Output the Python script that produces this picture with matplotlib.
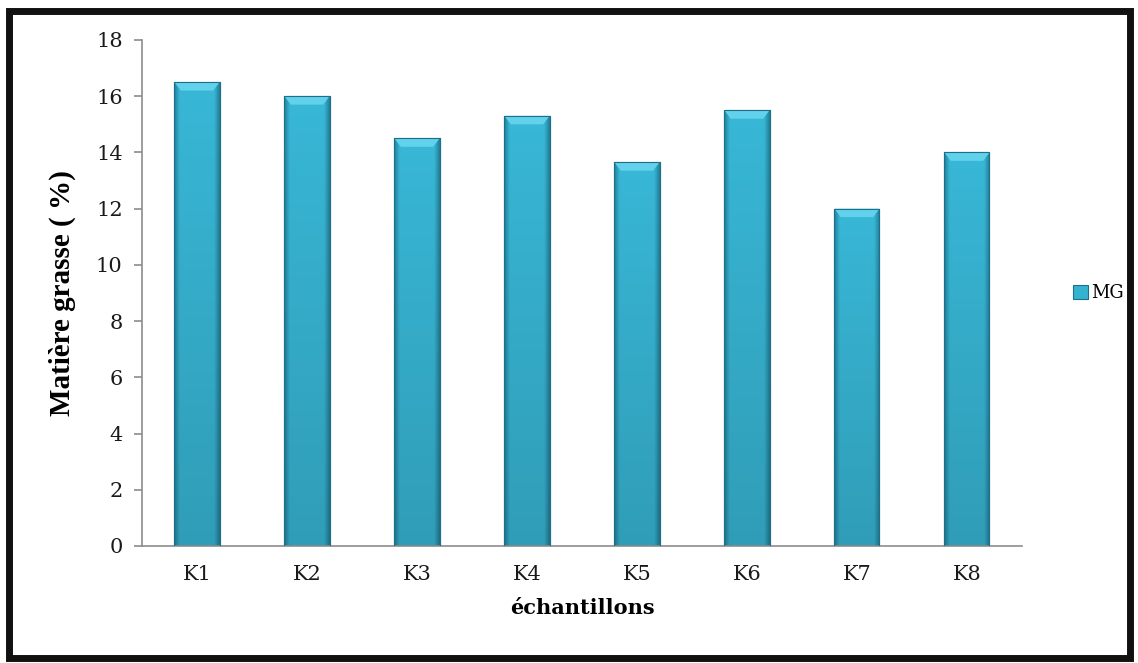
import numpy as np
import matplotlib
matplotlib.use("Agg")
import matplotlib.pyplot as plt
from matplotlib.patches import Rectangle, Polygon
from matplotlib.colors import to_rgb

samples = ["K1", "K2", "K3", "K4", "K5", "K6", "K7", "K8"]
mg_values = [16.5, 16.0, 14.5, 15.3, 13.65, 15.5, 12.0, 14.0]
yticks = [0, 2, 4, 6, 8, 10, 12, 14, 16, 18]

fig = plt.figure(figsize=(11.38, 6.63), dpi=100)
ax = fig.add_axes([0.1248, 0.1765, 0.7732, 0.7632])

x = np.arange(len(samples))
bars = ax.bar(x, mg_values, width=0.41, color="#36b2d1", edgecolor="#1d7088",
              linewidth=0.8, label="MG", zorder=2)

# shading: flat middle, darker side edges, a little darker towards the bottom
base = np.array(to_rgb("#38b7d6"))
edge = np.array(to_rgb("#227f98"))
u = np.linspace(0, 1, 80)
side = np.clip(np.minimum(u, 1 - u) / 0.12, 0, 1)
hprof = edge[None, :] + (base - edge)[None, :] * side[:, None]
v = np.linspace(0.86, 1.0, 60)
shade = v[:, None, None] * hprof[None, :, :]

for b in bars:
    x0, w, h = b.get_x(), b.get_width(), b.get_height()
    im = ax.imshow(shade, extent=[x0, x0 + w, 0, h], aspect="auto",
                   origin="lower", zorder=2.5, interpolation="bilinear")
    im.set_clip_path(b)
    d = w * 0.14
    ax.add_patch(Polygon([(x0, h), (x0 + w, h), (x0 + w - d, h - 0.3),
                          (x0 + d, h - 0.3)], closed=True,
                         facecolor="#62d2ec", edgecolor="none", zorder=2.6))
    ax.add_patch(Rectangle((x0, 0), w, h, facecolor="none",
                           edgecolor="#1d7088", linewidth=0.8, zorder=2.7))

ax.set_xlim(-0.5, len(samples) - 0.5)
ax.set_ylim(0, 18)
ax.set_yticks(yticks)
ax.set_xticks(x)
ax.set_xticklabels(samples)

for s in ["top", "right"]:
    ax.spines[s].set_visible(False)
for s in ["left", "bottom"]:
    ax.spines[s].set_color("#8c8c8c")
    ax.spines[s].set_linewidth(1.2)

ax.tick_params(axis="y", length=6, color="#8c8c8c", width=1.2, pad=8,
               labelsize=15)
ax.tick_params(axis="x", length=0, pad=14, labelsize=15)
for lab in ax.get_xticklabels() + ax.get_yticklabels():
    lab.set_family("DejaVu Serif")
    lab.set_color("#1a1a1a")

ax.set_ylabel("Matière grasse ( %)", family="Liberation Serif",
              fontweight="bold", fontsize=21, labelpad=14)
ax.set_xlabel("échantillons", family="DejaVu Serif", fontweight="bold",
              fontsize=15, labelpad=10)

leg = ax.legend(loc="center left", bbox_to_anchor=(1.04, 0.5), frameon=False,
                handlelength=0.8, handleheight=0.8, handletextpad=0.2,
                prop={"family": "DejaVu Serif", "size": 13})

# outer frame
fig.patches.append(Rectangle((0.008, 0.008), 0.985, 0.976,
                             transform=fig.transFigure, fill=False,
                             edgecolor="#111111", linewidth=5))

fig.savefig("out.png", dpi=100)
